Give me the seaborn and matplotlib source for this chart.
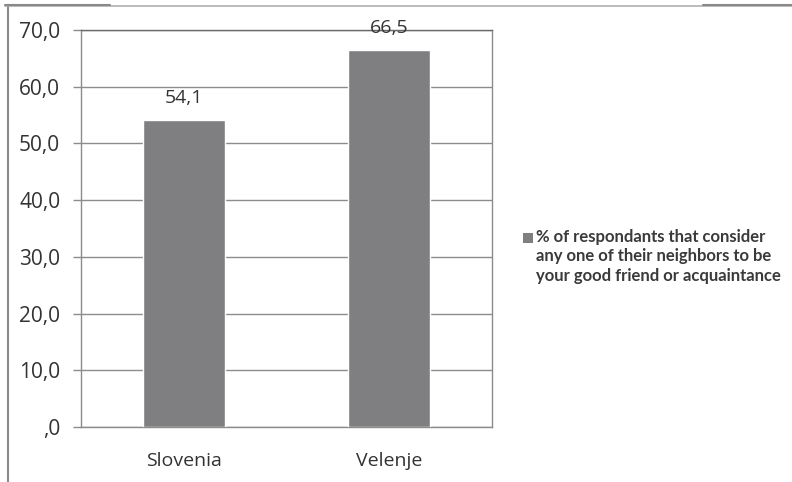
import matplotlib
matplotlib.use("Agg")
import matplotlib.pyplot as plt
import pandas as pd
import seaborn as sns
from matplotlib.lines import Line2D
from matplotlib.patches import Rectangle

# data
places = ["Slovenia", "Velenje"]
pct_friends = [54.1, 66.5]
y_ticks = [0, 10, 20, 30, 40, 50, 60, 70]
legend_label = ("% of respondants that consider\n"
                "any one of their neighbors to be\n"
                "your good friend or acquaintance")

df = pd.DataFrame({"place": places, "pct": pct_friends})

sns.set_style("white")
plt.rcParams["font.family"] = ["Open Sans", "DejaVu Sans"]

bar_col = "#7f7f81"
grid_col = "#8c8c8c"
txt_col = "#333333"

fig = plt.figure(figsize=(7.92, 4.82), dpi=100)
ax = fig.add_axes([81 / 792, 1 - 427 / 482, (492 - 81) / 792, (427 - 30) / 482])

sns.barplot(data=df, x="place", y="pct", color=bar_col, width=0.4,
            saturation=1, ax=ax, zorder=3)

ax.set_ylim(0, 70)
ax.set_xlim(-0.5, 1.5)
ax.set_yticks(y_ticks)
ax.set_yticklabels(["," + "0" if v == 0 else f"{v:.1f}".replace(".", ",") for v in y_ticks])
ax.yaxis.grid(True, color=grid_col, linewidth=1, zorder=0)
ax.set_axisbelow(True)
ax.set_xlabel("")
ax.set_ylabel("")

for s in ax.spines.values():
    s.set_visible(True)
    s.set_color(grid_col)
    s.set_linewidth(1)
ax.spines["top"].set_color("#6a6a6a")

# category separators as ticks
ax.set_xticks([-0.5, 0.5, 1.5], minor=True)
ax.set_xticks([0, 1])
ax.set_xticklabels(places)
ax.tick_params(axis="x", which="major", length=0, pad=18, labelsize=14, labelcolor=txt_col)
ax.tick_params(axis="x", which="minor", length=6, color=grid_col, width=1, direction="out")
ax.tick_params(axis="y", length=6, color=grid_col, width=1, direction="out",
               pad=9, labelsize=15, labelcolor=txt_col)
ax.tick_params(left=True, bottom=True)

for i, v in enumerate(pct_friends):
    ax.text(i, v + 2.3, f"{v:.1f}".replace(".", ","), ha="center", va="bottom",
            fontsize=14, color=txt_col)

# legend: square key beside the first line of a three-line label
fig.add_artist(Rectangle((523 / 792, 1 - 243 / 482), 10 / 792, 10 / 482,
                         transform=fig.transFigure, facecolor=bar_col, edgecolor="none"))
fig.text(536 / 792, 1 - 229 / 482, legend_label, ha="left", va="top",
         family=["Lato", "DejaVu Sans"], weight="bold", fontsize=12,
         color="#3a3a3a", linespacing=1.25)

# outer frame of the original figure
fig.add_artist(Line2D([8 / 792, 8 / 792], [0, 1 - 6 / 482], color="#8a8a8a", lw=1.5))
fig.add_artist(Line2D([5 / 792, 1], [1 - 6 / 482, 1 - 6 / 482], color="#b0b0b0", lw=1.2))
fig.add_artist(Line2D([5 / 792, 110 / 792], [1 - 5 / 482, 1 - 5 / 482], color="#8a8a8a", lw=1.5))
fig.add_artist(Line2D([703 / 792, 1], [1 - 5 / 482, 1 - 5 / 482], color="#8a8a8a", lw=1.5))

fig.savefig("out.png", dpi=100, facecolor="white")
